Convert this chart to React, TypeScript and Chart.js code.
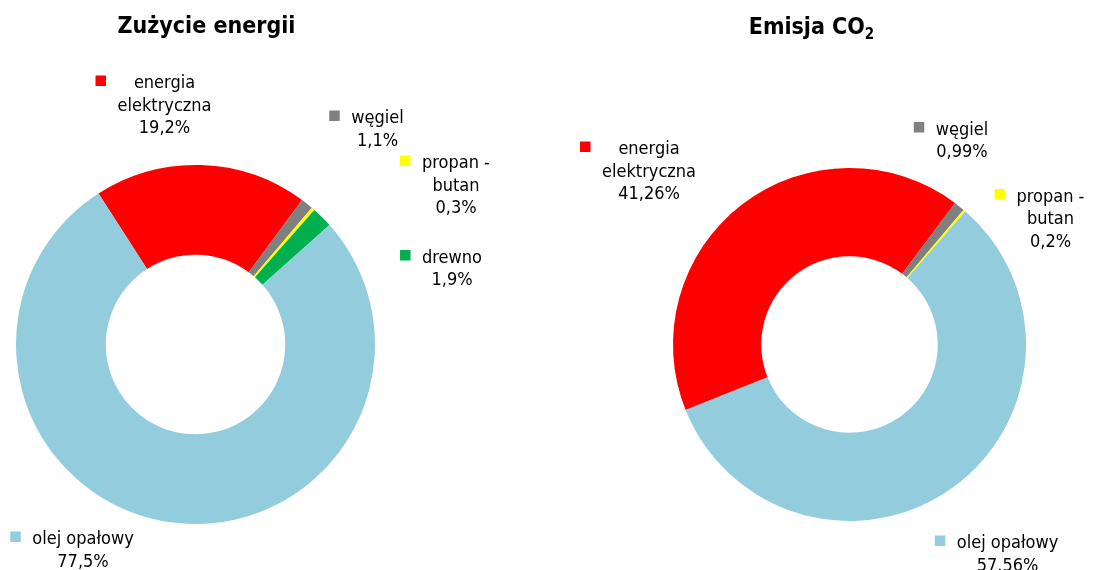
import React, { useEffect, useRef } from "react";
import { Chart, registerables } from "chart.js";

Chart.register(...registerables);

// ---------- data ----------
const energyCategories = ["energia elektryczna", "węgiel", "propan - butan", "drewno", "olej opałowy"];
const energyValues = [19.2, 1.1, 0.3, 1.9, 77.5];
const energyPercentLabels = ["19,2%", "1,1%", "0,3%", "1,9%", "77,5%"];

const co2Categories = ["energia elektryczna", "węgiel", "propan - butan", "olej opałowy"];
const co2Values = [41.26, 0.99, 0.2, 57.56];
const co2PercentLabels = ["41,26%", "0,99%", "0,2%", "57.56%"];

// ---------- styles / layout ----------
const COLORS: Record<string, string> = {
  "energia elektryczna": "#FF0000",
  "węgiel": "#808080",
  "propan - butan": "#FFFF00",
  "drewno": "#00B050",
  "olej opałowy": "#93CDDD",
};
const WRAP: Record<string, string[]> = {
  "energia elektryczna": ["energia", "elektryczna"],
  "propan - butan": ["propan -", "butan"],
};

const LABEL_FONT = '18px "DejaVu Sans Condensed", "DejaVu Sans", sans-serif';
const TITLE_FONT = 'bold 23px "DejaVu Sans Condensed", "DejaVu Sans", sans-serif';
const SUB_FONT = 'bold 15px "DejaVu Sans Condensed", "DejaVu Sans", sans-serif';
const LINE_H = 22.5;

// label anchors in page coordinates: text centre x, first baseline y
const energyAnchors = [
  { cx: 164.5, by: 88 },
  { cx: 377.5, by: 123 },
  { cx: 456, by: 168 },
  { cx: 452, by: 262.5 },
  { cx: 83, by: 544 },
];
const co2Anchors = [
  { cx: 649, by: 154 },
  { cx: 962, by: 134.5 },
  { cx: 1050.5, by: 201.5 },
  { cx: 1007.5, by: 548 },
];

type PanelCfg = {
  left: number;
  width: number;
  padding: { left: number; right: number; top: number; bottom: number };
  rotation: number;
  categories: string[];
  values: number[];
  pct: string[];
  anchors: { cx: number; by: number }[];
  title: { main: string; sub?: string; cx: number; by: number };
};

const panels: PanelCfg[] = [
  {
    left: 0,
    width: 557,
    padding: { left: 16, right: 182, top: 165, bottom: 46 },
    rotation: -32.7,
    categories: energyCategories,
    values: energyValues,
    pct: energyPercentLabels,
    anchors: energyAnchors,
    title: { main: "Zużycie energii", cx: 206.5, by: 33 },
  },
  {
    left: 557,
    width: 558,
    padding: { left: 116, right: 89, top: 168, bottom: 49 },
    rotation: -111.8,
    categories: co2Categories,
    values: co2Values,
    pct: co2PercentLabels,
    anchors: co2Anchors,
    title: { main: "Emisja CO", sub: "2", cx: 811.5, by: 34 },
  },
];

function makeLabelPlugin(cfg: PanelCfg) {
  return {
    id: "excelLabels",
    afterDraw(chart: any) {
      const ctx: CanvasRenderingContext2D = chart.ctx;
      ctx.save();
      // title
      ctx.fillStyle = "#000";
      ctx.textBaseline = "alphabetic";
      ctx.font = TITLE_FONT;
      const w1 = ctx.measureText(cfg.title.main).width;
      let w2 = 0;
      if (cfg.title.sub) {
        ctx.font = SUB_FONT;
        w2 = ctx.measureText(cfg.title.sub).width;
      }
      const tx = cfg.title.cx - cfg.left - (w1 + w2) / 2;
      ctx.font = TITLE_FONT;
      ctx.textAlign = "left";
      ctx.fillText(cfg.title.main, tx, cfg.title.by);
      if (cfg.title.sub) {
        ctx.font = SUB_FONT;
        ctx.fillText(cfg.title.sub, tx + w1, cfg.title.by + 5);
      }
      // data labels
      ctx.font = LABEL_FONT;
      cfg.categories.forEach((cat, i) => {
        const a = cfg.anchors[i];
        const lines = [...(WRAP[cat] || [cat]), cfg.pct[i]];
        const maxW = Math.max(...lines.map((l) => ctx.measureText(l).width));
        const cx = a.cx - cfg.left;
        const keyX = cx - maxW / 2 - 22;
        ctx.fillStyle = COLORS[cat];
        ctx.fillRect(keyX, a.by - 12.5, 10.5, 10.5);
        ctx.fillStyle = "#000";
        ctx.textAlign = "center";
        lines.forEach((l, j) => ctx.fillText(l, cx, a.by + j * LINE_H));
      });
      ctx.restore();
    },
  };
}

function Panel({ cfg }: { cfg: PanelCfg }) {
  const ref = useRef<HTMLCanvasElement>(null);
  useEffect(() => {
    if (!ref.current) return;
    const chart = new Chart(ref.current, {
      type: "doughnut",
      data: {
        labels: cfg.categories,
        datasets: [
          {
            data: cfg.values,
            backgroundColor: cfg.categories.map((c) => COLORS[c]),
            borderWidth: 0,
            hoverOffset: 0,
          },
        ],
      },
      options: {
        responsive: false,
        animation: false,
        events: [],
        cutout: "50%",
        rotation: cfg.rotation,
        layout: { padding: cfg.padding },
        plugins: {
          legend: { display: false },
          tooltip: { enabled: false },
          title: { display: false },
        },
      },
      plugins: [makeLabelPlugin(cfg)],
    } as any);
    return () => chart.destroy();
  }, [cfg]);
  return (
    <canvas
      ref={ref}
      width={cfg.width}
      height={570}
      style={{ position: "absolute", left: cfg.left, top: 0, width: cfg.width, height: 570 }}
    />
  );
}

export default function App() {
  return (
    <div style={{ position: "absolute", left: 0, top: 0, width: 1115, height: 570, background: "#fff", overflow: "hidden" }}>
      {panels.map((p, i) => (
        <Panel key={i} cfg={p} />
      ))}
    </div>
  );
}
